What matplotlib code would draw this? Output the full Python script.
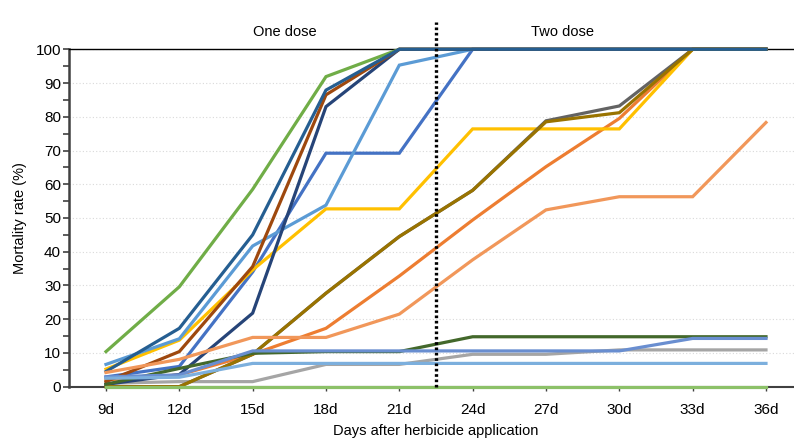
import matplotlib.pyplot as plt
from matplotlib.ticker import MultipleLocator

plt.rcParams['font.family'] = ['Liberation Sans', 'DejaVu Sans']

days = ["9d", "12d", "15d", "18d", "21d", "24d", "27d", "30d", "33d", "36d"]

# mortality rate (%) per series, in Excel colour order
blue      = [2.9, 6.0, 34.0, 69.2, 69.2, 100, 100, 100, 100, 100]
orange    = [2.0, 3.5, 9.6, 17.3, 32.8, 49.4, 65.2, 79.5, 100, 100]
gray      = [1.0, 1.5, 1.5, 6.6, 6.6, 9.6, 9.6, 10.9, 10.9, 10.9]
gold      = [5.2, 13.8, 34.6, 52.7, 52.7, 76.4, 76.4, 76.4, 100, 100]
lightblue = [6.6, 14.2, 41.7, 53.8, 95.3, 100, 100, 100, 100, 100]
green     = [10.4, 29.6, 58.5, 91.9, 100, 100, 100, 100, 100, 100]
navy      = [0.7, 3.6, 21.8, 83.0, 100, 100, 100, 100, 100, 100]
brown     = [1.5, 10.4, 35.6, 86.5, 100, 100, 100, 100, 100, 100]
darkgray  = [0.0, 0.0, 9.6, 27.7, 44.5, 58.2, 78.8, 83.2, 100, 100]
darkgold  = [0.0, 0.0, 9.6, 27.7, 44.5, 58.2, 78.5, 81.2, 100, 100]
steelblue = [4.5, 17.3, 45.0, 87.9, 100, 100, 100, 100, 100, 100]
darkgreen = [0.7, 5.4, 9.9, 10.4, 10.4, 14.8, 14.8, 14.8, 14.8, 14.8]
midblue   = [2.9, 3.5, 10.6, 10.6, 10.6, 10.6, 10.6, 10.6, 14.3, 14.3]
peach     = [4.2, 8.1, 14.6, 14.6, 21.5, 37.6, 52.4, 56.3, 56.3, 78.3]
skyblue   = [2.5, 2.8, 6.9, 6.9, 6.9, 6.9, 6.9, 6.9, 6.9, 6.9]
lightgrn  = [0, 0, 0, 0, 0, 0, 0, 0, 0, 0]

series = [
    (blue, "#4472C4"), (orange, "#ED7D31"), (gray, "#A5A5A5"),
    (gold, "#FFC000"), (lightblue, "#5B9BD5"), (green, "#70AD47"),
    (navy, "#264478"), (brown, "#9E480E"), (darkgray, "#636363"),
    (darkgold, "#997300"), (steelblue, "#255E91"), (darkgreen, "#43682B"),
    (midblue, "#698ED0"), (peach, "#F1975A"), (skyblue, "#7CAFDD"),
    (lightgrn, "#8CC168"),
]

fig = plt.figure(figsize=(7.94, 4.46), dpi=100)
ax = fig.add_axes([0.0873, 0.133, 0.9236, 0.7565])

x = range(len(days))
for vals, col in series:
    ax.plot(x, vals, color=col, lw=2.3, solid_joinstyle="miter", clip_on=False, zorder=3)

# dose boundary
ax.plot([4.5, 4.5], [0, 108], color="black", lw=2.4, linestyle=(0, (0.8, 0.8)),
        clip_on=False, zorder=4)
ax.text(2.44, 105, "One dose", ha="center", va="center", fontsize=10.5)
ax.text(6.22, 105, "Two dose", ha="center", va="center", fontsize=10.5)

ax.set_xlim(-0.5, 9.5)
ax.set_ylim(0, 100)
ax.set_xticks(list(x))
ax.set_xticklabels(days)
ax.yaxis.set_major_locator(MultipleLocator(10))
ax.yaxis.set_minor_locator(MultipleLocator(5))
ax.grid(axis="y", which="major", color="#d9d9d9", linestyle=(0, (1, 2)), lw=0.8)
ax.set_axisbelow(True)

ax.tick_params(axis="y", which="both", direction="out", length=4, width=1.2, color="#404040", labelsize=11, pad=2)
ax.tick_params(axis="x", direction="out", length=3, width=1, color="#404040", labelsize=11, pad=9)

ax.spines["left"].set_color("#404040")
ax.spines["left"].set_linewidth(1.8)
ax.spines["bottom"].set_color("#404040")
ax.spines["bottom"].set_linewidth(1.5)
ax.spines["top"].set_color("black")
ax.spines["top"].set_linewidth(1.0)
ax.spines["right"].set_visible(False)

ax.set_xlabel("Days after herbicide application", fontsize=10.5, labelpad=5)
ax.set_ylabel("Mortality rate (%)", fontsize=10.5, labelpad=6)

fig.savefig("out.png", dpi=100)
